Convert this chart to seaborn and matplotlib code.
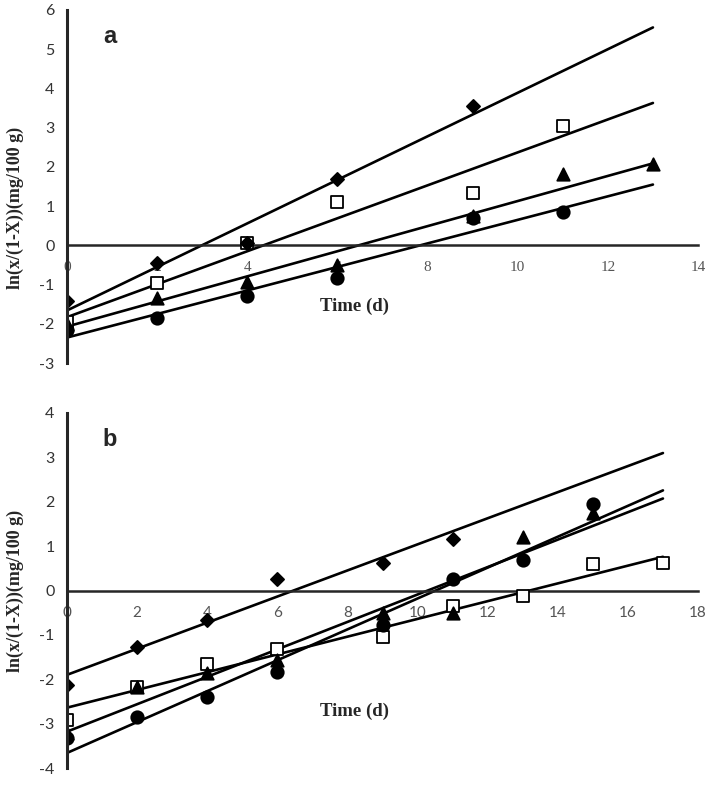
import numpy as np
import pandas as pd
import seaborn as sns
import matplotlib.pyplot as plt

# Date
# ---------------------------------------------------------------
# Panel a
days_a = [0, 2, 4, 6, 9, 11, 13]
diamond_a = [-1.42, -0.45, 0.05, 1.68, 3.55, np.nan, np.nan]
square_a = [-1.95, -0.97, 0.05, 1.10, 1.33, 3.04, np.nan]
triangle_a = [-2.00, -1.35, -0.94, -0.50, 0.75, 1.83, 2.07]
circle_a = [-2.15, -1.84, -1.28, -0.82, 0.71, 0.84, np.nan]
# dreptele de regresie (intercept, panta) si capatul lor
fit_int_a = [-1.66, -1.83, -2.07, -2.35]
fit_slope_a = [0.555, 0.42, 0.32, 0.30]
fit_end_a = 13

# Panel b
days_b = [0, 2, 4, 6, 9, 11, 13, 15, 17]
diamond_b = [-2.12, -1.28, -0.66, 0.25, 0.63, 1.15, np.nan, np.nan, np.nan]
square_b = [-2.91, -2.17, -1.65, -1.31, -1.04, -0.36, -0.13, 0.59, 0.61]
triangle_b = [-3.20, -2.17, -1.87, -1.57, -0.51, -0.50, 1.20, 1.74, np.nan]
circle_b = [-3.33, -2.84, -2.39, -1.83, -0.77, 0.25, 0.68, 1.94, np.nan]
fit_int_b = [-1.90, -2.64, -3.18, -3.66]
fit_slope_b = [0.294, 0.200, 0.309, 0.348]
fit_end_b = 17

series_names = ["square", "diamond", "triangle", "circle"]
# ---------------------------------------------------------------

sns.set_style("white")
plt.rcParams["font.family"] = ["Liberation Sans", "DejaVu Sans"]
plt.rcParams["axes.unicode_minus"] = False

markers = {"diamond": "D", "square": "s", "triangle": "^", "circle": "o"}
sizes = {"diamond": 45, "square": 70, "triangle": 80, "circle": 80}
faces = {"diamond": "black", "square": "white", "triangle": "black", "circle": "black"}

fig = plt.figure(figsize=(7.09, 7.93), dpi=100)
ax_a = fig.add_axes([0.0945, 0.5422, 0.89, 0.4452])
ax_b = fig.add_axes([0.0945, 0.0315, 0.89, 0.4477])


def draw_panel(ax, days, values, fit_int, fit_slope, fit_end, xmax, ymin, ymax,
               letter, xtick_font, ylab_y):
    # punctele
    df = pd.DataFrame({"day": days})
    for name, vals in zip(series_names, values):
        df[name] = vals
    long = df.melt(id_vars="day", var_name="series", value_name="val").dropna()
    for name in series_names:
        sub = long[long["series"] == name]
        sns.scatterplot(data=sub, x="day", y="val", ax=ax, marker=markers[name],
                        s=sizes[name], color=faces[name], edgecolor="black",
                        linewidth=1.3, zorder=3, legend=False)
    # dreptele
    for b0, b1 in zip(fit_int, fit_slope):
        xs = np.array([0, fit_end])
        line = pd.DataFrame({"x": xs, "y": b0 + b1 * xs})
        sns.lineplot(data=line, x="x", y="y", ax=ax, color="black", linewidth=1.9, zorder=2)

    ax.set_xlim(0, xmax)
    ax.set_ylim(ymin, ymax)
    ax.set_xticks(range(0, xmax + 1, 2))
    ax.set_yticks(range(ymin, ymax + 1))
    ax.spines["top"].set_visible(False)
    ax.spines["right"].set_visible(False)
    ax.spines["left"].set_linewidth(2.2)
    ax.spines["bottom"].set_linewidth(1.8)
    ax.spines["bottom"].set_position(("data", 0))
    ax.spines["left"].set_zorder(4)
    ax.tick_params(axis="both", direction="out", length=4, width=1.8, color="black")
    ax.tick_params(axis="x", pad=7, labelsize=11, labelcolor="#555555")
    ax.tick_params(axis="y", pad=5, labelsize=11.5, labelcolor="#333333")
    for lab in ax.get_xticklabels():
        lab.set_family(xtick_font)
    for lab in ax.get_yticklabels():
        lab.set_family("Lato")
    ax.set_xlabel("")
    ax.set_ylabel("ln(x/(1-X))(mg/100 g)", family="Liberation Serif", fontweight="bold",
                  fontsize=13)
    ax.yaxis.set_label_coords(-0.068, ylab_y)
    ax.text(0.456, 0.16, "Time (d)", transform=ax.transAxes, family="Liberation Serif",
            fontweight="bold", fontsize=13.5, ha="center", va="center")
    ax.text(0.068, 0.925, letter, transform=ax.transAxes, fontweight="bold",
            fontsize=17, ha="center", va="center")


draw_panel(ax_a, days_a, [square_a, diamond_a, triangle_a, circle_a],
           fit_int_a, fit_slope_a, fit_end_a, 14, -3, 6, "a", "Liberation Serif", 0.44)
draw_panel(ax_b, days_b, [square_b, diamond_b, triangle_b, circle_b],
           fit_int_b, fit_slope_b, fit_end_b, 18, -4, 4, "b", "Lato", 0.5)

plt.savefig("out.png", dpi=100)
